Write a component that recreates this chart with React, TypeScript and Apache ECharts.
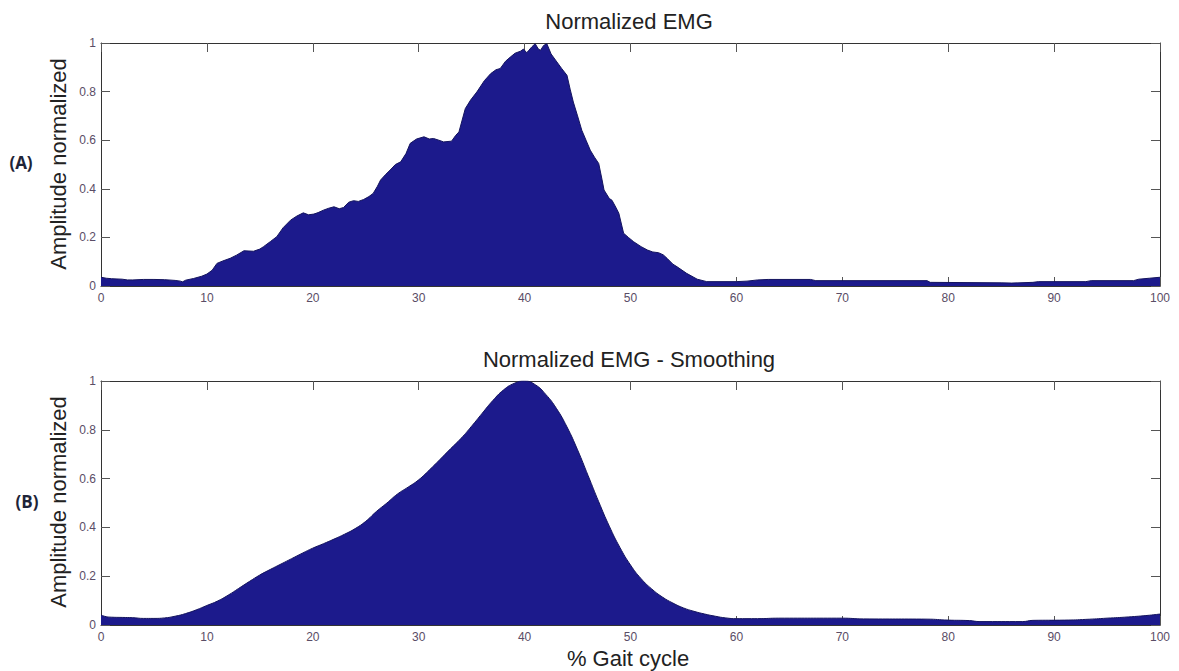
import React, { useEffect, useRef } from "react";
import * as echarts from "echarts";

const xTicks = [0, 10, 20, 30, 40, 50, 60, 70, 80, 90, 100];
const yTicks = [0, 0.2, 0.4, 0.6, 0.8, 1];

const titleA = "Normalized EMG";
const titleB = "Normalized EMG - Smoothing";
const yName = "Amplitude normalized";
const xName = "% Gait cycle";
const panelLabels = ["(A)", "(B)"];

// Raw normalized EMG (% gait cycle, amplitude)
const rawGait = [
  0, 0.5, 1, 2, 2.5, 3, 4, 5, 6, 7, 7.5, 7.7, 8, 8.75, 9.5, 10, 10.5, 10.95, 11.5, 12.2,
  12.8, 13.5, 14.4, 15, 15.35, 16, 16.6, 17.2, 17.9, 18.5, 19.1, 19.6, 20.1, 20.5, 21, 21.5,
  22, 22.5, 22.9, 23.4, 23.85, 24.3, 24.8, 25.3, 25.7, 26.1, 26.4, 26.9, 27.3, 27.8, 28.3,
  28.8, 29.2, 29.8, 30.5, 31, 31.4, 31.9, 32.35, 33.1, 33.5, 33.8, 34.4, 34.9, 35.5, 36.2,
  36.8, 37.3, 37.7, 38.2, 38.65, 39.1, 39.6, 39.9, 40.2, 40.4, 40.7, 41.0, 41.3, 41.5, 41.8,
  42.1, 42.5, 43.05, 43.5, 44.0, 44.3, 44.6, 45.0, 45.4, 45.8, 46.2, 46.6, 47.0, 47.3, 47.5,
  48.0, 48.25, 48.6, 48.9, 49.35, 49.8, 50.3, 51, 51.6, 52.1, 52.65, 53.1, 53.45, 54.0, 54.4,
  55.3, 55.8, 56.3, 57.2, 60, 61, 62, 63, 67, 67.5, 78, 78.3, 85, 86, 88, 88.5, 93, 93.5,
  97.5, 98, 99, 100,
];
const rawAmp = [
  0.036, 0.032, 0.03, 0.028, 0.025, 0.025, 0.027, 0.027, 0.026, 0.023, 0.02, 0.017, 0.024,
  0.031, 0.04, 0.049, 0.065, 0.093, 0.103, 0.114, 0.127, 0.145, 0.143, 0.152, 0.162, 0.183,
  0.203, 0.24, 0.271, 0.288, 0.301, 0.293, 0.296, 0.302, 0.312, 0.32, 0.326, 0.318, 0.323,
  0.345, 0.351, 0.348, 0.356, 0.368, 0.381, 0.41, 0.436, 0.46, 0.477, 0.5, 0.511, 0.545,
  0.587, 0.605, 0.614, 0.605, 0.607, 0.6, 0.593, 0.596, 0.62, 0.634, 0.73, 0.765, 0.799,
  0.845, 0.874, 0.89, 0.895, 0.925, 0.942, 0.958, 0.966, 0.975, 0.96, 0.97, 0.985, 0.997,
  0.975, 0.97, 0.99, 0.997, 0.955, 0.922, 0.895, 0.867, 0.81, 0.757, 0.7, 0.641, 0.6, 0.559,
  0.53, 0.504, 0.44, 0.395, 0.36, 0.353, 0.325, 0.299, 0.217, 0.2, 0.182, 0.162, 0.148,
  0.14, 0.137, 0.128, 0.114, 0.09, 0.079, 0.052, 0.04, 0.028, 0.018, 0.018, 0.02, 0.025,
  0.027, 0.027, 0.022, 0.022, 0.015, 0.013, 0.012, 0.015, 0.018, 0.018, 0.022, 0.022, 0.028,
  0.032, 0.036,
];

// Smoothed EMG
const smoothGait = [
  0, 0.5, 1, 2, 3, 4, 5, 6, 7, 8, 9, 10, 11, 12, 13, 14, 15, 16, 17, 18, 19, 20, 21, 22, 23,
  24, 25, 26, 27, 28, 29, 30, 31, 32, 33, 34, 35, 36, 37, 38, 39, 40, 41, 42, 43, 44, 45, 46,
  47, 48, 49, 50, 51, 52, 53, 54, 55, 56, 57, 58, 59, 60, 62, 64, 70, 72, 78, 80, 82, 83, 87,
  88, 91, 93, 95, 97, 99, 100,
];
const smoothAmp = [
  0.041, 0.034, 0.032, 0.031, 0.03, 0.027, 0.027, 0.029, 0.036, 0.047, 0.062, 0.08, 0.098,
  0.122, 0.15, 0.178, 0.205, 0.228, 0.25, 0.272, 0.294, 0.315, 0.333, 0.352, 0.372, 0.395,
  0.425, 0.465, 0.5, 0.537, 0.565, 0.595, 0.635, 0.678, 0.722, 0.765, 0.815, 0.868, 0.92,
  0.963, 0.99, 1.0, 0.985, 0.945, 0.888, 0.812, 0.718, 0.612, 0.505, 0.405, 0.318, 0.246,
  0.19, 0.148, 0.115, 0.09, 0.07, 0.056, 0.045, 0.036, 0.029, 0.026, 0.026, 0.028, 0.028,
  0.025, 0.024, 0.02, 0.018, 0.014, 0.014, 0.019, 0.02, 0.023, 0.028, 0.033, 0.04, 0.045,
];

const FILL = "#1c1a8c";
const EDGE = "#14145e";
const AXIS = "#333333";
const TICKLABEL = "#5a4d66";
const FONT = "Liberation Sans, Arial, sans-serif";

export default function App() {
  const ref = useRef<HTMLDivElement>(null);

  useEffect(() => {
    if (!ref.current) return;
    const chart = echarts.init(ref.current, undefined, { renderer: "svg" });

    const grids = [
      { left: 101, top: 43, width: 1059, height: 243 },
      { left: 101, top: 381, width: 1059, height: 244 },
    ];

    const xAxes: any[] = [];
    const yAxes: any[] = [];
    grids.forEach((_, gi) => {
      ["bottom", "top"].forEach((pos) => {
        xAxes.push({
          gridIndex: gi,
          type: "value",
          position: pos,
          min: xTicks[0],
          max: xTicks[xTicks.length - 1],
          interval: 10,
          axisLine: { show: true, onZero: false, lineStyle: { color: AXIS, width: 1 } },
          axisTick: { show: true, inside: true, length: 9, lineStyle: { color: "#555" } },
          axisLabel: {
            show: pos === "bottom",
            color: TICKLABEL,
            fontSize: 12,
            fontFamily: FONT,
            margin: 6,
            showMinLabel: true,
            showMaxLabel: true,
          },
          splitLine: { show: false },
        });
      });
      ["left", "right"].forEach((pos) => {
        yAxes.push({
          gridIndex: gi,
          type: "value",
          position: pos,
          min: yTicks[0],
          max: yTicks[yTicks.length - 1],
          interval: 0.2,
          axisLine: { show: true, onZero: false, lineStyle: { color: AXIS, width: 1 } },
          axisTick: { show: true, inside: true, length: 9, lineStyle: { color: "#555" } },
          axisLabel: {
            show: pos === "left",
            color: TICKLABEL,
            fontSize: 12,
            fontFamily: FONT,
            margin: 5,
            showMinLabel: true,
            showMaxLabel: true,
          },
          splitLine: { show: false },
        });
      });
    });

    const rawData = rawGait.map((g, i) => [g, rawAmp[i]]);
    const smoothData = smoothGait.map((g, i) => [g, smoothAmp[i]]);

    const textStyleBase = { fill: "#222", fontFamily: FONT, fontSize: 22 };

    chart.setOption({
      animation: false,
      backgroundColor: "#ffffff",
      grid: grids,
      xAxis: xAxes,
      yAxis: yAxes,
      series: [
        {
          type: "line",
          xAxisIndex: 0,
          yAxisIndex: 0,
          data: rawData,
          showSymbol: false,
          symbol: "none",
          lineStyle: { color: EDGE, width: 1 },
          areaStyle: { color: FILL, opacity: 1 },
          z: 1,
        },
        {
          type: "line",
          xAxisIndex: 2,
          yAxisIndex: 2,
          data: smoothData,
          showSymbol: false,
          symbol: "none",
          smooth: 0.5,
          lineStyle: { color: EDGE, width: 1 },
          areaStyle: { color: FILL, opacity: 1 },
          z: 1,
        },
      ],
      graphic: [
        {
          type: "text",
          x: 629,
          y: 21,
          style: { ...textStyleBase, text: titleA, textAlign: "center", textVerticalAlign: "middle" },
        },
        {
          type: "text",
          x: 629,
          y: 359,
          style: { ...textStyleBase, text: titleB, textAlign: "center", textVerticalAlign: "middle" },
        },
        {
          type: "text",
          x: 628,
          y: 658,
          style: { ...textStyleBase, text: xName, textAlign: "center", textVerticalAlign: "middle" },
        },
        {
          type: "text",
          x: 58,
          y: 164,
          rotation: Math.PI / 2,
          style: { ...textStyleBase, text: yName, textAlign: "center", textVerticalAlign: "middle" },
        },
        {
          type: "text",
          x: 58,
          y: 502,
          rotation: Math.PI / 2,
          style: { ...textStyleBase, text: yName, textAlign: "center", textVerticalAlign: "middle" },
        },
        {
          type: "text",
          x: 21,
          y: 162,
          style: {
            text: panelLabels[0],
            fill: "#1e2438",
            fontFamily: "Open Sans, sans-serif",
            fontWeight: "bold",
            fontSize: 17,
            textAlign: "center",
            textVerticalAlign: "middle",
          },
        },
        {
          type: "text",
          x: 27,
          y: 501,
          style: {
            text: panelLabels[1],
            fill: "#1e2438",
            fontFamily: "Open Sans, sans-serif",
            fontWeight: "bold",
            fontSize: 17,
            textAlign: "center",
            textVerticalAlign: "middle",
          },
        },
      ],
    });

    return () => {
      chart.dispose();
    };
  }, []);

  return (
    <div
      ref={ref}
      style={{ position: "absolute", left: 0, top: 0, width: 1179, height: 671, background: "#fff" }}
    />
  );
}
